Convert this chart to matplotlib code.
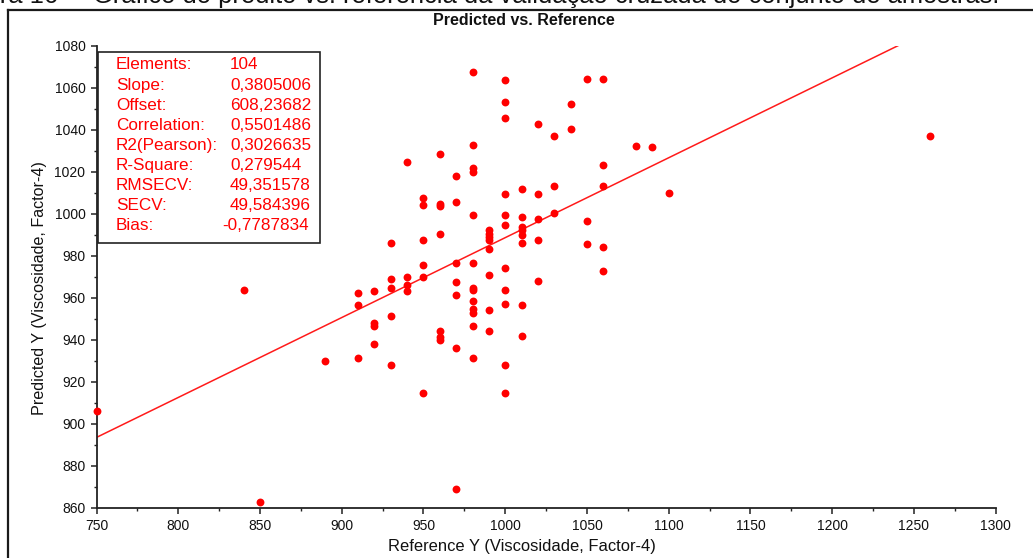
import matplotlib
matplotlib.use("Agg")
import matplotlib.pyplot as plt
from matplotlib.ticker import MultipleLocator
from matplotlib.lines import Line2D
from matplotlib.patches import Rectangle
from matplotlib.transforms import offset_copy

# ---------------- data ----------------
reference = (
    [750, 840, 850, 890]
    + [910] * 3 + [920] * 4 + [930] * 5 + [940] * 4 + [950] * 6 + [960] * 7
    + [970] * 7 + [980] * 13 + [990] * 8 + [1000] * 11 + [1010] * 8
    + [1020] * 5 + [1030] * 3 + [1040] * 2 + [1050] * 3 + [1060] * 5
    + [1080, 1090, 1100, 1260]
)
predicted = (
    [906, 964, 863, 930]
    + [962.5, 956.5, 931.3]
    + [963.5, 948.3, 946.7, 938.3]
    + [986.4, 969, 964.7, 951.5, 927.9]
    + [1024.7, 970, 966.3, 963.5]
    + [1007.4, 1004.4, 987.7, 975.9, 969.9, 914.7]
    + [1028.8, 1004.8, 1003.8, 990.6, 944.5, 941.2, 940.2]
    + [1018.3, 1005.9, 976.7, 967.6, 961.3, 936.2, 869]
    + [1067.7, 1033, 1021.8, 1020.2, 999.5, 976.5, 964.7, 964, 958.5, 955, 952.8, 946.7, 931.3]
    + [992.3, 990.7, 989.1, 987.5, 983.5, 971.1, 954.4, 944.5]
    + [1063.6, 1053.2, 1045.6, 1009.4, 999.5, 994.7, 974.4, 964, 957, 927.9, 914.7]
    + [1012.1, 998.8, 993.9, 992.3, 989.9, 986.3, 956.6, 941.8]
    + [1042.8, 1009.4, 997.6, 987.7, 968.2]
    + [1037.1, 1013.5, 1000.3]
    + [1052.6, 1040.6]
    + [1064.4, 996.8, 985.6]
    + [1064.4, 1023.2, 1013.5, 984.3, 973]
    + [1032.3, 1031.7, 1010, 1037.1]
)
slope = 0.3805006
offset = 608.23682

stat_names = ["Elements:", "Slope:", "Offset:", "Correlation:", "R2(Pearson):",
              "R-Square:", "RMSECV:", "SECV:", "Bias:"]
stat_values = ["104", "0,3805006", "608,23682", "0,5501486", "0,3026635",
               "0,279544", "49,351578", "49,584396", "-0,7787834"]

x_ticks = list(range(750, 1301, 50))
y_ticks = list(range(860, 1081, 20))

title = "Predicted vs. Reference"
x_label = "Reference Y (Viscosidade, Factor-4)"
y_label = "Predicted Y (Viscosidade, Factor-4)"
caption_num = "Figura 16 \u2013"
caption = "Gr\u00e1fico do predito vs. refer\u00eancia da valida\u00e7\u00e3o cruzada do conjunto de amostras."

# ---------------- figure ----------------
W, H = 1033, 558
fig = plt.figure(figsize=(W / 100, H / 100), dpi=100)
fig.patch.set_facecolor("white")
sans = ["Liberation Sans", "DejaVu Sans"]

ax = fig.add_axes([96.5 / W, 1 - 508 / H, 899.2 / W, 462 / H])
ax.set_xlim(750, 1300)
ax.set_ylim(860, 1080)

ax.scatter(reference, predicted, s=32, color="#ff0000", linewidths=0,
           zorder=3, clip_on=False)

lx = [750, 1300]
ly = [offset + slope * v for v in lx]
ax.plot(lx, ly, color="#ff1a1a", lw=1.1, zorder=2)

for s in ["top", "right"]:
    ax.spines[s].set_visible(False)
for s in ["left", "bottom"]:
    ax.spines[s].set_linewidth(1.3)
    ax.spines[s].set_color("#222222")

ax.set_xticks(x_ticks)
ax.set_yticks(y_ticks)
ax.xaxis.set_minor_locator(MultipleLocator(25))
ax.yaxis.set_minor_locator(MultipleLocator(10))
ax.tick_params(which="major", direction="out", length=4, width=1.1, color="#222222", pad=4)
ax.tick_params(which="minor", direction="out", length=2.5, width=1.0, color="#222222")
tick_font = ["Liberation Sans Narrow", "Liberation Sans", "DejaVu Sans"]
for lab in ax.get_xticklabels() + ax.get_yticklabels():
    lab.set_family(tick_font)
    lab.set_fontsize(10)
    lab.set_color("#111111")

# axis labels (centred as in the source software)
fig.text(522 / W, 1 - 546 / H, x_label, ha="center", va="center",
         family=sans, fontsize=11.9, color="#111111")
fig.text(40 / W, 1 - 288 / H, y_label, ha="center", va="center", rotation=90,
         family=sans, fontsize=11.6, color="#111111")

# stats box
box = Rectangle((0.002, 0.574), 0.2466, 0.412, transform=ax.transAxes,
                facecolor="white", edgecolor="#222222", lw=1.2, zorder=5)
ax.add_patch(box)
y0 = 0.959
dy = 20.1 / 462
for i, (n, v) in enumerate(zip(stat_names, stat_values)):
    yy = y0 - i * dy
    ax.text(0.0217, yy, n, transform=ax.transAxes, ha="left", va="center",
            color="#ff0000", fontsize=12.3, family=sans, zorder=6)
    tr = ax.transAxes
    if v.startswith("-"):
        tr = offset_copy(ax.transAxes, fig=fig, x=-5.5, y=0, units="points")
    ax.text(0.1485, yy, v, transform=tr, ha="left", va="center",
            color="#ff0000", fontsize=12.3, family=sans, zorder=6)

# title
fig.text(523.5 / W, 1 - 25 / H, title, ha="center", va="baseline",
         fontsize=11.5, weight="bold", family=sans, color="#111111")

# outer frame (cut by the screenshot on the right and bottom)
fig.add_artist(Line2D([8 / W, 8 / W], [0, 1 - 10 / H], transform=fig.transFigure,
                      color="#1a1a1a", lw=1.6))
fig.add_artist(Line2D([8 / W, 1], [1 - 10 / H, 1 - 10 / H], transform=fig.transFigure,
                      color="#1a1a1a", lw=1.6))

# caption from the document, cut at the top
fig.text(93 / W, 1 - 3.5 / H, caption, ha="left", va="baseline", fontsize=18.4,
         family=sans, color="#111111")
fig.text(80 / W, 1 - 3.5 / H, caption_num, ha="right", va="baseline", fontsize=18.4,
         family=sans, color="#111111")

fig.savefig("out.png", dpi=100, facecolor="white")
